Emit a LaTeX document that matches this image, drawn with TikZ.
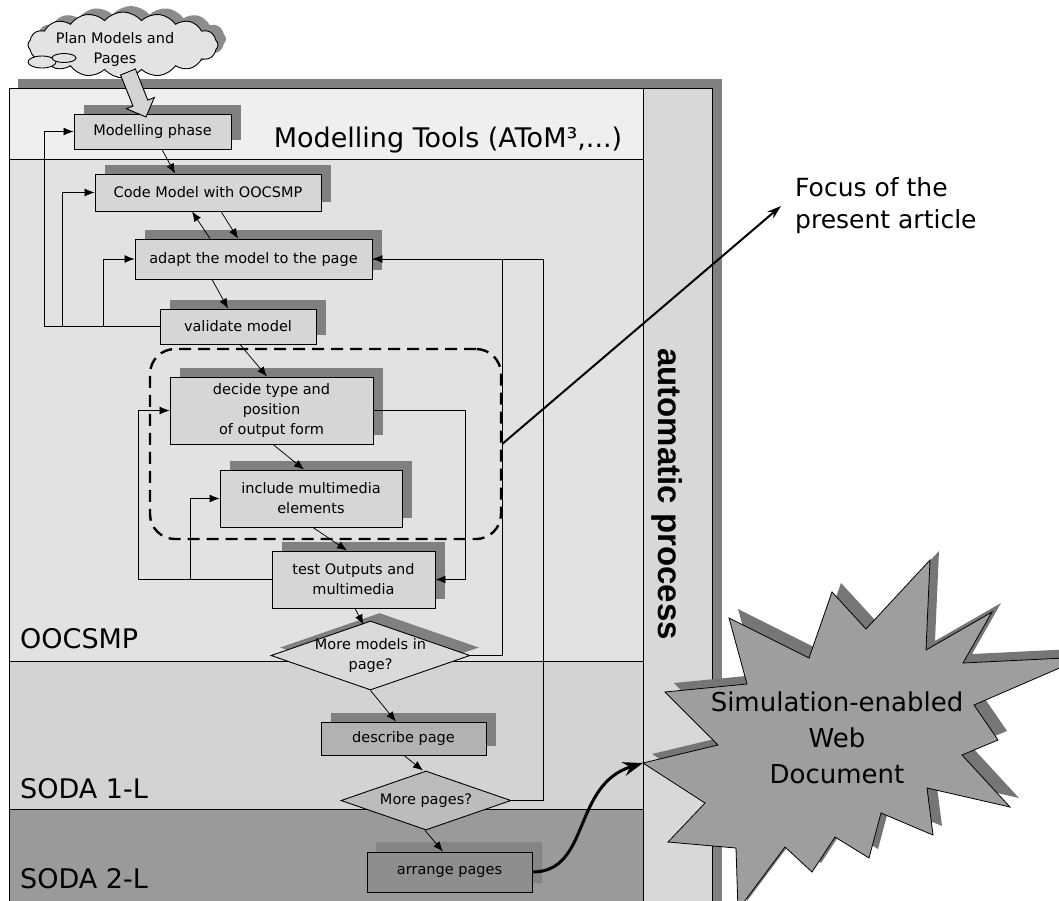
\documentclass[tikz,border=0pt]{standalone}
\usepackage{fontspec}
\setmainfont{DejaVu Sans}
\newfontfamily\arialfont{Liberation Sans}
\usetikzlibrary{shapes.geometric,shapes.symbols,shadows,arrows.meta,calc}
\definecolor{shc}{HTML}{808080}
\definecolor{bandA}{HTML}{EFEFEF}
\definecolor{bandB}{HTML}{E2E2E2}
\definecolor{bandC}{HTML}{D3D3D3}
\definecolor{bandD}{HTML}{9A9A9A}
\definecolor{colc}{HTML}{D8D8D8}
\definecolor{boxc}{HTML}{D6D6D6}
\definecolor{mmc}{HTML}{DADADA}
\definecolor{descc}{HTML}{B2B2B2}
\definecolor{mpc}{HTML}{BCBCBC}
\definecolor{arrc}{HTML}{8E8E8E}
\definecolor{arrsh}{HTML}{858585}
\definecolor{starc}{HTML}{9E9E9E}
\definecolor{starsh}{HTML}{767676}
\definecolor{cloudc}{HTML}{E3E3E3}
\definecolor{cloudsh}{HTML}{8C8C8C}
\definecolor{blockc}{HTML}{D4D4D4}
\begin{document}
\begin{tikzpicture}[x=1pt,y=-1pt,
  txt/.style={font=\fontsize{14.5}{20}\selectfont, align=center},
  lab/.style={font=\fontsize{27}{32}\selectfont, inner sep=0pt},
  box/.style={draw, line width=0.9pt, fill=boxc, inner sep=0pt, txt,
    general shadow={fill=shc, shadow xshift=10pt, shadow yshift=9pt}},
  dia/.style={draw, line width=0.9pt, shape=diamond, inner sep=0pt},
  arr/.style={line width=0.75pt, -{Latex[length=10pt,width=8pt]}},
  ln/.style={line width=0.75pt},
  frameln/.style={line width=1pt}]
\useasboundingbox (0,0) rectangle (1059,900);
\clip (0,0) rectangle (1059,900);

% frame and bands
\fill[shc] (18,79) rectangle (722,905);
\fill[bandA] (9,88) rectangle (643,159);
\fill[bandB] (9,159) rectangle (643,661);
\fill[bandC] (9,661) rectangle (643,809);
\fill[bandD] (9,809) rectangle (643,905);
\fill[colc] (643,88) rectangle (712,905);
\draw[frameln] (9,88) rectangle (712,905);
\draw[frameln] (9,159) -- (643,159);
\draw[frameln] (9,661) -- (643,661);
\draw[frameln] (9,809) -- (643,809);
\draw[frameln] (643,88) -- (643,905);

% band labels
\node[lab, anchor=base] (tools) at (448,147) {Modelling Tools (AToM³,...)};
\node[lab, anchor=base west] (oocsmp) at (20,648) {OOCSMP};
\node[lab, anchor=base west] (soda1) at (20,798) {SODA 1-L};
\node[lab, anchor=base west] (soda2) at (20,888) {SODA 2-L};
\node[rotate=-90, inner sep=0pt, font=\arialfont\bfseries\fontsize{33}{33}\selectfont] (auto) at (667,494) {automatic process};

% dashed focus region
\node[draw, line width=2.4pt, dash pattern=on 12pt off 7pt, rounded corners=25pt,
  minimum width=351pt, minimum height=190pt, inner sep=0pt] (focus) at (325.5,444) {};

% process boxes
\node[box, minimum width=157pt, minimum height=35pt] (mp) at (152.5,131.5) {Modelling phase};
\node[box, minimum width=226pt, minimum height=37pt] (code) at (208,192.5) {Code Model with OOCSMP};
\node[box, minimum width=237pt, minimum height=40pt] (adapt) at (253.5,259) {adapt the model to the page};
\node[box, minimum width=156pt, minimum height=35pt] (val) at (238,326.5) {validate model};
\node[box, minimum width=203pt, minimum height=67pt] (dec) at (271.5,410.5) {decide type and\\position\\of output form};
\node[box, minimum width=182pt, minimum height=57pt] (inc) at (311,498.5) {include multimedia\\elements};
\node[box, minimum width=163pt, minimum height=57pt] (test) at (353.5,579.5) {test Outputs and\\multimedia};
\node[dia, fill=mmc, minimum width=199pt, minimum height=69pt,
  general shadow={fill=shc, shadow xshift=9pt, shadow yshift=8pt},
  label={[txt]center:More models in\\page?}] (mm) at (370.5,655.5) {};
\node[box, fill=descc, minimum width=165pt, minimum height=33pt] (desc) at (403.5,738.5) {describe page};
\node[dia, fill=mpc, minimum width=170pt, minimum height=59pt,
  label={[txt]center:More pages?}] (mpg) at (426,800.5) {};
\node[box, fill=arrc, general shadow={fill=arrsh, shadow xshift=9pt, shadow yshift=10pt},
  minimum width=165pt, minimum height=40pt] (arrp) at (449.5,872) {arrange pages};

% main flow
\draw[arr] ([xshift=9.5pt]mp.south) -- ([xshift=-33pt]code.north);
\draw[arr] ([xshift=-43.5pt]adapt.north) -- ([xshift=-16pt]code.south);
\draw[arr] ([xshift=13pt]code.south) -- ([xshift=-15.5pt]adapt.north);
\draw[arr] ([xshift=-41.5pt]adapt.south) -- ([xshift=-10pt]val.north);
\draw[arr] ([xshift=2pt]val.south) -- ([xshift=-4.5pt]dec.north);
\draw[arr] ([xshift=1.5pt]dec.south) -- ([xshift=-7pt]inc.north);
\draw[arr] ([xshift=2pt]inc.south) -- ([xshift=-6.5pt]test.north);
\draw[arr] ([xshift=1.5pt]test.south) -- ([xshift=-7pt,yshift=-4pt]mm.north);
\draw[arr] (mm.south) -- ([xshift=-7.5pt]desc.north);
\draw[arr] ([xshift=0.5pt]desc.south) -- ([xshift=-3pt]mpg.north);
\draw[arr] ([xshift=-1pt]mpg.south) -- ([xshift=-6.5pt]arrp.north);

% left feedback loops
\draw[arr] (val.west) -- ++(-115,0) |- (mp.west);
\draw[arr] ($(val.west)+(-97,0)$) |- (code.west);
\draw[arr] ($(val.west)+(-56,0)$) |- (adapt.west);

% inner loops
\draw[arr] (dec.east) -- ++(92,0) |- (test.east);
\draw[arr] (test.west) -- ++(-133,0) |- (dec.west);
\draw[arr] ($(test.west)+(-81,0)$) |- (inc.west);

% right loops
\draw[ln] (mm.east) -- ++(32,0) |- (adapt.east);
\draw[arr] (mpg.east) -- ++(32,0) |- (adapt.east);

% star
\coordinate (stip) at (643,763);
\fill[starsh, shift={(9,-9)}] (643,763) -- (718,745) -- (665,692) -- (747,684) -- (729,618) -- (809,658) -- (832,592) -- (866,629) -- (930,560) -- (926,650) -- (992,612) -- (963,663) -- (1085,657) -- (974,705) -- (998,740) -- (962,755) -- (1010,807) -- (927,788) -- (933,835) -- (881,813) -- (869,858) -- (835,837) -- (812,872) -- (785,847) -- (738,910) -- (736,848) -- (668,842) -- (705,803) -- cycle;
\draw[fill=starc, line width=0.8pt] (643,763) -- (718,745) -- (665,692) -- (747,684) -- (729,618) -- (809,658) -- (832,592) -- (866,629) -- (930,560) -- (926,650) -- (992,612) -- (963,663) -- (1085,657) -- (974,705) -- (998,740) -- (962,755) -- (1010,807) -- (927,788) -- (933,835) -- (881,813) -- (869,858) -- (835,837) -- (812,872) -- (785,847) -- (738,910) -- (736,848) -- (668,842) -- (705,803) -- cycle;
\node[font=\fontsize{26}{36}\selectfont, align=center, inner sep=0pt] (doc) at (837,738) {Simulation-enabled\\Web\\Document};

\draw[line width=3pt, -{Stealth[length=20pt,width=14pt]}] (arrp.east) .. controls +(58,0) and +(-71,22) .. (stip);

% focus annotation
\node[font=\fontsize{25}{32}\selectfont, align=left, anchor=west, inner sep=0pt] (ft) at (795,206) {Focus of the\\present article};
\draw[line width=2pt, -{Stealth[length=14pt,width=9pt]}] (focus.east) -- ([xshift=-14pt]ft.west);

% cloud
\node[cloud, cloud puffs=16, cloud puff arc=100, aspect=2.8, draw, line width=0.9pt, fill=cloudc,
  minimum width=190pt, minimum height=66pt,
  general shadow={fill=cloudsh, shadow xshift=8pt, shadow yshift=6pt},
  label={[txt, xshift=-8pt, yshift=-4pt]center:Plan Models and\\Pages}] (plan) at (123,45) {};
\draw[fill=cloudc, line width=0.9pt] (42,62) ellipse [x radius=14, y radius=6];
\draw[fill=cloudc, line width=0.9pt] (64,58) ellipse [x radius=12, y radius=4.5];

% block arrow
\draw[fill=blockc, line width=0.9pt] (120.6,75) -- (135.4,69) -- (147.8,100.1) -- (154.3,97.5) -- (146,117) -- (126.5,108.7) -- (133,106.1) -- cycle;
\end{tikzpicture}
\end{document}
